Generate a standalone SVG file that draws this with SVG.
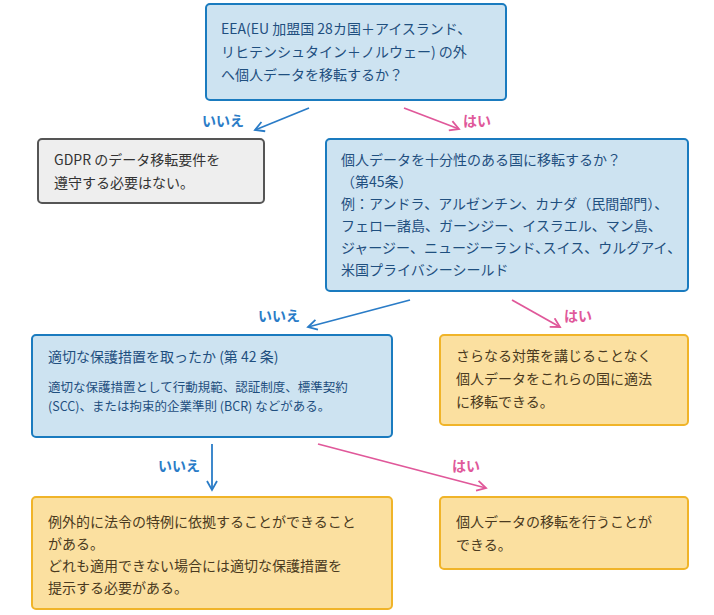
<svg xmlns="http://www.w3.org/2000/svg" width="714" height="615" viewBox="0 0 714 615">
<defs>
<style>
text{font-family:"Noto Sans CJK JP","Noto Sans",sans-serif;font-size:14px;fill:#1f4f7f}
.b{fill:#cde3f1;stroke:#1a7bbf;stroke-width:2}
.g{fill:#eeeeee;stroke:#555;stroke-width:2}
.y{fill:#fbe0a0;stroke:#f0b429;stroke-width:2}
.gt{fill:#333}
.yt{fill:#4a3a20}
.s{font-size:12.5px}
.lb{stroke:#2a7cc7;stroke-width:1.8;fill:none}
.lp{stroke:#e0589a;stroke-width:1.8;fill:none}
.tb{fill:#2a7cc7;font-weight:bold}
.tp{fill:#e0589a;font-weight:bold}
</style>
<marker id="ab" markerWidth="12" markerHeight="12" refX="10" refY="6" orient="auto" markerUnits="userSpaceOnUse"><path d="M1,1 L10,6 L1,11" fill="none" stroke="#2a7cc7" stroke-width="1.8"/></marker>
<marker id="ap" markerWidth="12" markerHeight="12" refX="10" refY="6" orient="auto" markerUnits="userSpaceOnUse"><path d="M1,1 L10,6 L1,11" fill="none" stroke="#e0589a" stroke-width="1.8"/></marker>
</defs>
<g id="n1"><rect class="b" x="206" y="4" width="300" height="96" rx="4"/>
<text x="221" y="34">EEA(EU 加盟国 28カ国＋アイスランド、</text>
<text x="221" y="57">リヒテンシュタイン＋ノルウェー) の外</text>
<text x="221" y="80">へ個人データを移転するか？</text></g>
<g id="n2"><rect class="g" x="38" y="139" width="226" height="64" rx="4"/>
<text class="gt" x="54" y="165">GDPR のデータ移転要件を</text>
<text class="gt" x="54" y="188">遵守する必要はない。</text></g>
<g id="n3"><rect class="b" x="326" y="139" width="362" height="152" rx="4"/>
<text x="341" y="165">個人データを十分性のある国に移転するか？</text>
<text x="341" y="187">（第45条）</text>
<text x="341" y="209">例：アンドラ、アルゼンチン、カナダ（民間部門）、</text>
<text x="341" y="231">フェロー諸島、ガーンジー、イスラエル、マン島、</text>
<text x="341" y="253">ジャージー、ニュージーランド､スイス、ウルグアイ、</text>
<text x="341" y="275">米国プライバシーシールド</text></g>
<g id="n4"><rect class="b" x="32" y="335" width="360" height="102" rx="4"/>
<text x="48" y="362">適切な保護措置を取ったか (第 42 条)</text>
<text class="s" x="48" y="392">適切な保護措置として行動規範、認証制度、標準契約</text>
<text class="s" x="48" y="411">(SCC)、または拘束的企業準則 (BCR) などがある。</text></g>
<g id="n5"><rect class="y" x="440" y="335" width="248" height="90" rx="4"/>
<text class="yt" x="456" y="361">さらなる対策を講じることなく</text>
<text class="yt" x="456" y="384">個人データをこれらの国に適法</text>
<text class="yt" x="456" y="407">に移転できる。</text></g>
<g id="n6"><rect class="y" x="32" y="497" width="360" height="112" rx="4"/>
<text class="yt" x="48" y="527">例外的に法令の特例に依拠することができること</text>
<text class="yt" x="48" y="549">がある。</text>
<text class="yt" x="48" y="571">どれも適用できない場合には適切な保護措置を</text>
<text class="yt" x="48" y="593">提示する必要がある。</text></g>
<g id="n7"><rect class="y" x="440" y="497" width="248" height="72" rx="4"/>
<text class="yt" x="456" y="527">個人データの移転を行うことが</text>
<text class="yt" x="456" y="550">できる。</text></g>
<g id="connectors">
<path class="lb" d="M309,108 L255,130" marker-end="url(#ab)"/>
<path class="lp" d="M404,108 L459,129" marker-end="url(#ap)"/>
<path class="lb" d="M410,300 L308,327" marker-end="url(#ab)"/>
<path class="lp" d="M512,300 L560,327" marker-end="url(#ap)"/>
<path class="lb" d="M212,444 L212,490" marker-end="url(#ab)"/>
<path class="lp" d="M318,444 L486,488" marker-end="url(#ap)"/>
<text class="tb" x="202" y="126">いいえ</text>
<text class="tp" x="463" y="126">はい</text>
<text class="tb" x="258" y="321">いいえ</text>
<text class="tp" x="564" y="321">はい</text>
<text class="tb" x="158" y="471">いいえ</text>
<text class="tp" x="452" y="471">はい</text>
</g>
</svg>
